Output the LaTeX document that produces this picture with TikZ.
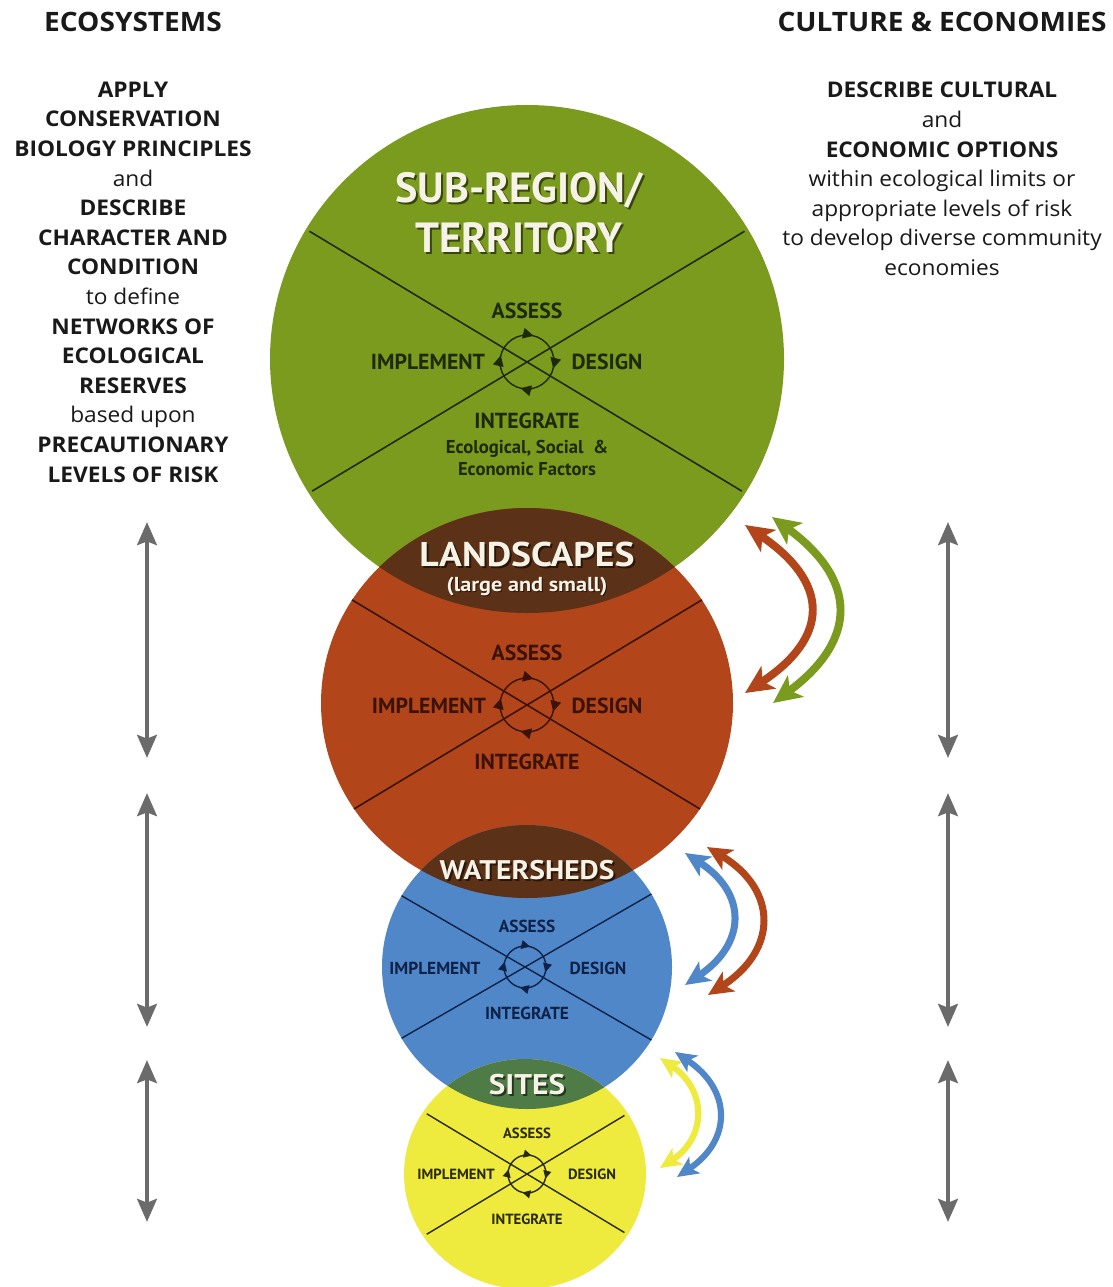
\documentclass[tikz,border=0pt]{standalone}
\usepackage{fontspec}
\setmainfont{PT Sans}
\newfontfamily\colfont[FakeStretch=1.05]{Open Sans}
\newfontfamily\widesans[FakeStretch=1.1]{PT Sans}
\usetikzlibrary{arrows.meta}

\definecolor{greenc}{HTML}{7B9B1F}
\definecolor{redc}{HTML}{B2461A}
\definecolor{bluec}{HTML}{5087C8}
\definecolor{yellowc}{HTML}{EEEA3E}
\definecolor{lensbrown}{HTML}{5B3218}
\definecolor{lensgreen}{HTML}{4F7B46}
\definecolor{greyarrow}{HTML}{6B6B6B}
\definecolor{inkgreen}{HTML}{1E2A06}
\definecolor{inkred}{HTML}{3A1206}
\definecolor{inkblue}{HTML}{0E2148}
\definecolor{inkyellow}{HTML}{2A2906}
\definecolor{titlewhite}{HTML}{F7F2E6}

\tikzset{
  radG/.style={x radius=257, y radius=254},
  radR/.style={x radius=206, y radius=195},
  radB/.style={x radius=145, y radius=142},
  radY/.style={x radius=121, y radius=115},
  coltext/.style={align=center, text=black!90, inner sep=0pt,
    font=\colfont\fontsize{12.3}{16.85}\selectfont},
  headtext/.style={inner sep=0pt, text=black!90,
    font=\colfont\bfseries\fontsize{15.2}{17}\selectfont},
  titletext/.style={inner sep=0pt, text=titlewhite,
    font=\bfseries\fontsize{#1}{#1}\selectfont},
  titleshadow/.style={inner sep=0pt, text=black, opacity=0.55,
    font=\bfseries\fontsize{#1}{#1}\selectfont},
  widetitle/.style={inner sep=0pt, text=titlewhite,
    font=\widesans\bfseries\fontsize{#1}{#1}\selectfont},
  wideshadow/.style={inner sep=0pt, text=black, opacity=0.55,
    font=\widesans\bfseries\fontsize{#1}{#1}\selectfont},
  greyarrow/.style={draw=greyarrow, line width=2.8pt,
    {Stealth[length=13pt,width=11pt,inset=2pt]}-{Stealth[length=13pt,width=11pt,inset=2pt]}},
  lab/.style={inner sep=0pt, font=\bfseries\fontsize{#1}{#1}\selectfont},
}

\begin{document}
\begin{tikzpicture}[x=0.02cm,y=0.02cm]
\useasboundingbox (0,0) rectangle (1112,-1287);
\fill[white] (0,0) rectangle (1112,-1287);

% ---------- centres of the four nested scales ----------
\coordinate (cG) at (527,-359);
\coordinate (cR) at (527,-703);
\coordinate (cB) at (527,-967);
\coordinate (cY) at (525,-1174);
% crossing points of the X lines / cycle centres
\coordinate (xG) at (527,-362);
\coordinate (xR) at (527,-705);
\coordinate (xB) at (525,-967);
\coordinate (xY) at (527,-1174);

% ---------- discs ----------
\fill[greenc]  (cG) ellipse[radG];
\fill[redc]    (cR) ellipse[radR];
\fill[bluec]   (cB) ellipse[radB];
\fill[yellowc] (cY) ellipse[radY];

% ---------- X lines inside each disc ----------
\begin{scope}
  \clip (cG) ellipse[x radius=253, y radius=250];
  \draw[inkgreen, line width=0.9pt] (xG) ++(149:600) -- ++(-31:1200);
  \draw[inkgreen, line width=0.9pt] (xG) ++(31:600) -- ++(211:1200);
\end{scope}
\begin{scope}
  \clip (cR) ellipse[radR];
  \draw[inkred, line width=0.9pt] (xR) ++(149:600) -- ++(-31:1200);
  \draw[inkred, line width=0.9pt] (xR) ++(31:600) -- ++(211:1200);
\end{scope}
\begin{scope}
  \clip (cB) ellipse[radB];
  \draw[inkblue, line width=0.8pt] (xB) ++(150:600) -- ++(-30:1200);
  \draw[inkblue, line width=0.8pt] (xB) ++(30:600) -- ++(210:1200);
\end{scope}
\begin{scope}
  \clip (cY) ellipse[x radius=117, y radius=111];
  \draw[inkyellow, line width=0.8pt] (xY) ++(149:600) -- ++(-31:1200);
  \draw[inkyellow, line width=0.8pt] (xY) ++(31:600) -- ++(211:1200);
\end{scope}

% ---------- overlaps between neighbouring scales ----------
\begin{scope}
  \clip (cG) ellipse[radG];
  \fill[lensbrown] (cR) ellipse[radR];
\end{scope}
\begin{scope}
  \clip (cR) ellipse[radR];
  \fill[lensbrown] (cB) ellipse[radB];
\end{scope}
\begin{scope}
  \clip (cB) ellipse[radB];
  \fill[lensgreen] (cY) ellipse[radY];
\end{scope}

% ---------- assess / design / integrate / implement cycles ----------
\newcommand{\cyclering}[4]{% centre, radius, colour, tip size
  \draw[#3, line width=0.8pt] (#1) circle[radius=#2];
  \foreach \a in {100,10,-80,-170}
    \draw[#3, line width=0.8pt, -{Triangle[length=#4,width=#4]}]
      (#1) ++(\a:#2) arc[start angle=\a, end angle=\a-24, radius=#2];
}
\cyclering{xG}{27}{inkgreen}{6pt}
\cyclering{xR}{27}{inkred}{6pt}
\cyclering{xB}{21}{inkblue}{5pt}
\cyclering{xY}{19}{inkyellow}{4.5pt}

% ---------- titles of the scales ----------
\node[titleshadow=24] (subA-s) at (521,-192) {SUB-REGION/};
\node[titletext=24]   (subA)   at (519,-190) {SUB-REGION/};
\node[titleshadow=24] (subB-s) at (521,-240) {TERRITORY};
\node[titletext=24]   (subB)   at (519,-238) {TERRITORY};
\node[wideshadow=19.5] (land-s) at (529,-557) {LANDSCAPES};
\node[widetitle=19.5]  (land)   at (527,-555) {LANDSCAPES};
\node[wideshadow=11.5] (lands-s) at (528,-588) {(large and small)};
\node[widetitle=11.5]  (lands)   at (527,-587) {(large and small)};
\node[wideshadow=15.3] (wat-s) at (529,-872) {WATERSHEDS};
\node[widetitle=15.3]  (wat)   at (527,-870) {WATERSHEDS};
\node[wideshadow=16.2] (sit-s) at (529,-1087) {SITES};
\node[widetitle=16.2]  (sit)   at (527,-1085) {SITES};

% ---------- cycle labels ----------
% sub-region
\node[lab=12.4, inkgreen] (gA) at (527,-311) {ASSESS};
\node[lab=12.4, inkgreen] (gI) at (428,-362) {IMPLEMENT};
\node[lab=12.4, inkgreen] (gD) at (607,-362) {DESIGN};
\node[lab=12.4, inkgreen] (gN) at (527,-421) {INTEGRATE};
\node[inkgreen, inner sep=0pt, align=center, font=\bfseries\fontsize{10.6}{13}\selectfont]
  (gF) at (527,-458) {Ecological, Social~~\&\\Economic Factors};
% landscapes
\node[lab=12.4, inkred] (rA) at (527,-653) {ASSESS};
\node[lab=12.4, inkred] (rI) at (429,-706) {IMPLEMENT};
\node[lab=12.4, inkred] (rD) at (607,-706) {DESIGN};
\node[lab=12.4, inkred] (rN) at (527,-762) {INTEGRATE};
% watersheds
\node[lab=9.9, inkblue] (bA) at (527,-926) {ASSESS};
\node[lab=9.9, inkblue] (bI) at (435,-968) {IMPLEMENT};
\node[lab=9.9, inkblue] (bD) at (598,-968) {DESIGN};
\node[lab=9.9, inkblue] (bN) at (527,-1013) {INTEGRATE};
% sites
\node[lab=8.4, inkyellow] (yA) at (527,-1133) {ASSESS};
\node[lab=8.4, inkyellow] (yI) at (456,-1174) {IMPLEMENT};
\node[lab=8.4, inkyellow] (yD) at (592,-1174) {DESIGN};
\node[lab=8.4, inkyellow] (yN) at (527,-1219) {INTEGRATE};

% ---------- side columns ----------
\node[headtext] (ecoh) at (133,-22) {ECOSYSTEMS};
\node[headtext] (culh) at (942,-22) {CULTURE \& ECONOMIES};

\node[coltext] (ecot) at (133,-282) {%
  \textbf{APPLY}\\\textbf{CONSERVATION}\\\textbf{BIOLOGY PRINCIPLES}\\and\\%
  \textbf{DESCRIBE}\\\textbf{CHARACTER AND}\\\textbf{CONDITION}\\to define\\%
  \textbf{NETWORKS OF}\\\textbf{ECOLOGICAL}\\\textbf{RESERVES}\\based upon\\%
  \textbf{PRECAUTIONARY}\\\textbf{LEVELS OF RISK}};
\node[coltext] (cult) at (942,-179) {%
  \textbf{DESCRIBE CULTURAL}\\and\\\textbf{ECONOMIC OPTIONS}\\%
  within ecological limits or\\appropriate levels of risk\\%
  to develop diverse community\\economies};

% ---------- vertical scale arrows ----------
\foreach \k/\ta/\tb in {1/522/758, 2/793/1027, 3/1060/1222}{
  \coordinate (L\k t) at (147,-\ta);
  \coordinate (L\k b) at (147,-\tb);
  \coordinate (R\k t) at (948,-\ta);
  \coordinate (R\k b) at (948,-\tb);
  \draw[greyarrow] (L\k t) -- (L\k b);
  \draw[greyarrow] (R\k t) -- (R\k b);
}

% ---------- curved links between scales ----------
\coordinate (p1rt) at (745,-525); \coordinate (p1rb) at (745,-693);
\coordinate (p1gt) at (772,-517); \coordinate (p1gb) at (773,-703);
\coordinate (p2bt) at (685,-853); \coordinate (p2bb) at (685,-985);
\coordinate (p2rt) at (707,-847); \coordinate (p2rb) at (708,-995);
\coordinate (p3yt) at (660,-1058); \coordinate (p3yb) at (660,-1168);
\coordinate (p3bt) at (675,-1052); \coordinate (p3bb) at (677,-1177);

\draw[redc, line width=4.5pt, {Stealth[length=16pt,width=15pt,inset=4pt]}-{Stealth[length=16pt,width=15pt,inset=4pt]}]
  (p1rt) .. controls (830,-583) and (830,-637) .. (p1rb);
\draw[greenc, line width=4.5pt, {Stealth[length=16pt,width=15pt,inset=4pt]}-{Stealth[length=16pt,width=15pt,inset=4pt]}]
  (p1gt) .. controls (858,-580) and (858,-640) .. (p1gb);
\draw[bluec, line width=4pt, {Stealth[length=14pt,width=13pt,inset=3.5pt]}-{Stealth[length=14pt,width=13pt,inset=3.5pt]}]
  (p2bt) .. controls (747,-893) and (747,-943) .. (p2bb);
\draw[redc, line width=4pt, {Stealth[length=14pt,width=13pt,inset=3.5pt]}-{Stealth[length=14pt,width=13pt,inset=3.5pt]}]
  (p2rt) .. controls (778,-890) and (778,-950) .. (p2rb);
\draw[yellowc, line width=3.5pt, {Stealth[length=12pt,width=11pt,inset=3pt]}-{Stealth[length=12pt,width=11pt,inset=3pt]}]
  (p3yt) .. controls (707,-1090) and (707,-1137) .. (p3yb);
\draw[bluec, line width=3.5pt, {Stealth[length=12pt,width=11pt,inset=3pt]}-{Stealth[length=12pt,width=11pt,inset=3pt]}]
  (p3bt) .. controls (732,-1090) and (732,-1140) .. (p3bb);
\end{tikzpicture}
\end{document}
